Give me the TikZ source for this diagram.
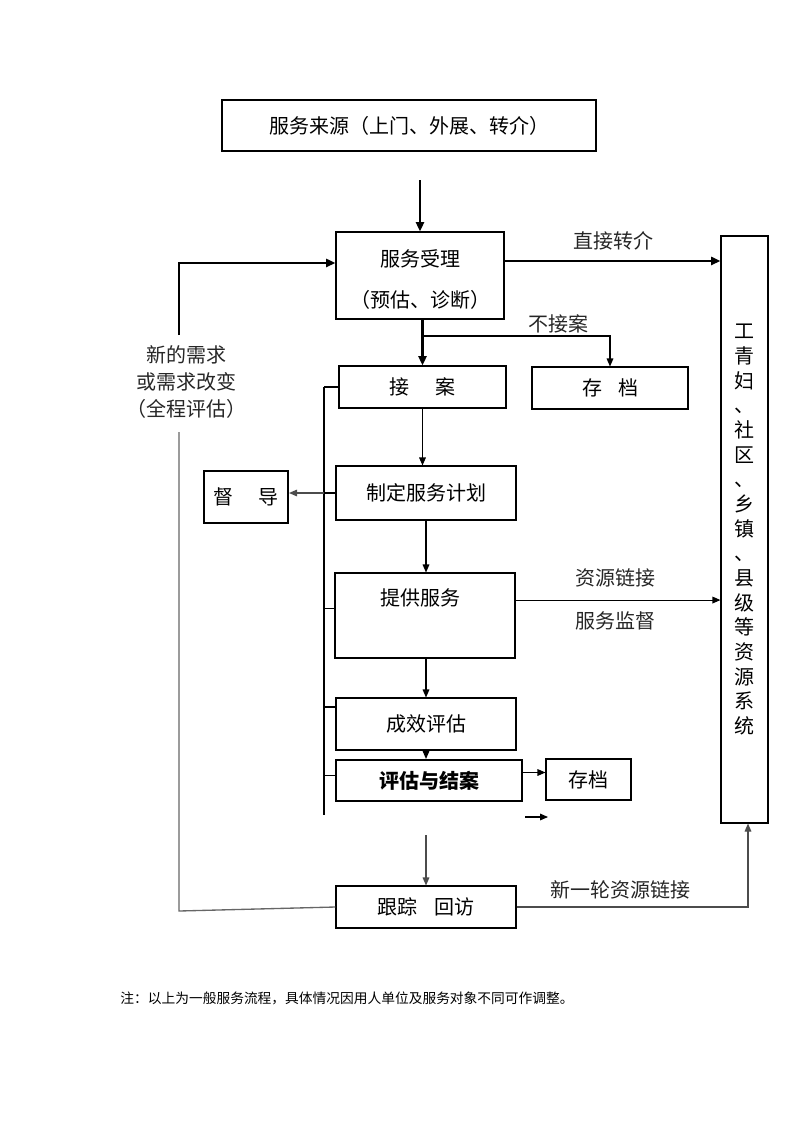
\documentclass[tikz,border=0pt]{standalone}
\usepackage{fontspec}
\setmainfont{Noto Sans CJK SC}
\usetikzlibrary{
    arrows.meta % For arrow tip styles
}

\begin{document}
\begin{tikzpicture}[
    x=0.75pt, y=-0.75pt, % page grid, y runs downwards
    % Define styles
    box/.style={rectangle, draw, line width=0.8pt, inner sep=0pt, font=\fontsize{15pt}{20pt}\selectfont}, % Process step
    boldbox/.style={box, line width=1.6pt}, % Heavier frame
    note/.style={inner sep=0pt, text=black!85, font=\fontsize{15pt}{20pt}\selectfont}, % Free text
    arrow/.style={line width=0.8pt, -{Triangle[length=6pt, width=5pt]}}, % Arrow style
    heavyarrow/.style={line width=1.8pt, -{Triangle[length=7pt, width=6pt]}}, % Heavy arrow
    link/.style={line width=0.8pt}, % Plain line
    grayline/.style={line width=1pt, draw=black!60} % Faint line
]
\useasboundingbox (0,0) rectangle (793,1122);

% ----- BOXES -----
\node (src)       [box, minimum width=280.5pt, minimum height=38.25pt] at (409,125.5) {服务来源（上门、外展、转介）};
\node (accept)    [box, minimum width=126pt, minimum height=65.25pt] at (420,275.5) {};
\node (accept_text) [note, text=black, align=center] at (420,280) {服务受理\\[10.75pt]（预估、诊断）};
\node (resources) [box, minimum width=35.25pt, minimum height=440.25pt, align=center, font=\fontsize{15pt}{18.5pt}\selectfont] at (744.5,529.5)
    {工\\青\\妇\\、\\社\\区\\、\\乡\\镇\\、\\县\\级\\等\\资\\源\\系\\统};
\node (take)      [box, minimum width=125.25pt, minimum height=31.5pt] at (422.5,387) {接\hspace{1.3em}案};
\node (archive1)  [box, minimum width=117pt, minimum height=31.5pt] at (610,388) {存\hspace{0.8em}档};
\node (plan)      [box, minimum width=135pt, minimum height=40.5pt] at (426,493) {制定服务计划};
\node (supervise) [boldbox, minimum width=63pt, minimum height=39pt] at (246,497) {督\hspace{1.25em}导};
\node (provide)   [box, minimum width=135pt, minimum height=63.75pt] at (425,615.5) {};
\node (provide_text) [note, text=black] at (420,598) {提供服务};
\node (evaluate)  [box, minimum width=135pt, minimum height=39pt] at (426,724) {成效评估};
\node (close)     [boldbox, minimum width=139.5pt, minimum height=30.75pt, font=\fontsize{15pt}{20pt}\selectfont\bfseries] at (429,780.5) {评估与结案};
\node (archive2)  [box, minimum width=63.75pt, minimum height=30.75pt] at (588.5,779.5) {存档};
\node (follow)    [box, minimum width=135pt, minimum height=31.5pt] at (426,907) {跟踪\hspace{0.9em}回访};

% ----- MAIN FLOW -----
\coordinate (src_out) at (420,180);
\draw [heavyarrow] (src_out) -- (src_out |- accept.north);

\coordinate (direct_from) at ([yshift=10.9pt]accept.east);
\draw [heavyarrow] (direct_from) -- (direct_from -| resources.west);
\node (direct_label) [note] at (613,241) {直接转介};

\coordinate (reject_split) at (422.5,336);
\draw [heavyarrow] (take.north |- accept.south) -- (take.north);
\draw [arrow] (reject_split) -| (archive1.north);
\node (reject_label) [note] at (558,324) {不接案};

\draw [arrow] (take.south) -- (take.south |- plan.north);
\draw [arrow] (plan.south) -- (plan.south |- provide.north);
\draw [arrow] (evaluate.north |- provide.south) -- (evaluate.north);
\draw [arrow] (evaluate.south) -- (evaluate.south |- close.north);
\coordinate (close_out) at (426,835);
\draw [arrow, draw=black!70] (close_out) -- (close_out |- follow.north);

% Service links to the resource system
\coordinate (link_from) at ([yshift=11.6pt]provide.east);
\draw [arrow] (link_from) -- (link_from -| resources.west);
\node (link_label) [note] at (615,578) {资源链接};
\node (watch_label) [note] at (615,621) {服务监督};

% Closing and archive
\coordinate (archive_from) at ([yshift=6pt]close.east);
\draw [arrow] (archive_from) -- (archive_from -| archive2.west);
\coordinate (stray_from) at (525,817);
\coordinate (stray_to) at (548,817);
\draw [arrow] (stray_from) -- (stray_to);

% New round of links
\coordinate (relink_corner) at (748,907);
\draw [arrow, draw=black!70] (follow.east) -- (relink_corner) -- (relink_corner |- resources.south);
\node (relink_label) [note] at (620,890) {新一轮资源链接};

% ----- SIDE BRACKET -----
\coordinate (bracket_top) at (324,387);
\coordinate (bracket_bot) at (324,815);
\coordinate (provide_tick) at ([yshift=5.6pt]provide.west);
\coordinate (evaluate_tick) at ([yshift=12.75pt]evaluate.west);
\coordinate (close_tick) at ([yshift=4pt]close.west);
\draw [link] (bracket_top) -- (bracket_bot);
\draw [link] (bracket_top) -- (take.west);
\draw [link] (bracket_top |- plan.west) -- (plan.west);
\draw [link] (provide_tick -| bracket_top) -- (provide_tick);
\draw [link] (evaluate_tick -| bracket_top) -- (evaluate_tick);
\draw [link] (close_tick -| bracket_top) -- (close_tick);
\draw [arrow, draw=black!70] (bracket_top |- plan.west) -- (supervise.east |- plan.west);

% ----- FEEDBACK LOOP -----
\coordinate (feedback_low) at (179,911);
\coordinate (feedback_mid) at (179,432);
\coordinate (feedback_top) at (179,335);
\coordinate (accept_in) at ([yshift=9.4pt]accept.west);
\draw [grayline] (follow.west) -- (feedback_low) -- (feedback_mid);
\draw [heavyarrow] (feedback_top) -- (feedback_top |- accept_in) -- (accept_in);
\node (needs_text) [note, align=center] at (186,382) {新的需求\\或需求改变\\（全程评估）};

% ----- FOOTNOTE -----
\node (footnote) [inner sep=0pt, font=\fontsize{10.3pt}{12pt}\selectfont] at (347,998)
    {注：以上为一般服务流程，具体情况因用人单位及服务对象不同可作调整。};

\end{tikzpicture}
\end{document}
